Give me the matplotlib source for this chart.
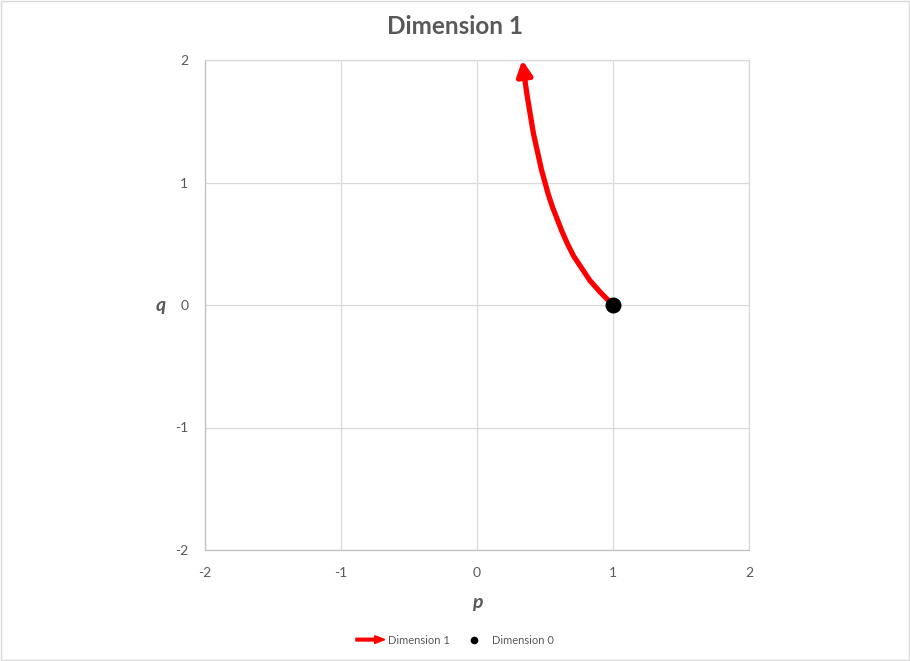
import matplotlib.pyplot as plt
from matplotlib.patches import FancyArrow
from matplotlib.lines import Line2D
from matplotlib.legend_handler import HandlerPatch

plt.rcParams['font.family'] = ['Lato', 'DejaVu Sans']
plt.rcParams['axes.unicode_minus'] = False

# path of dimension 1
q_vals = [0.0, 0.1, 0.2, 0.3, 0.4, 0.5, 0.6, 0.7, 0.8, 0.9, 1.0,
          1.1, 1.2, 1.3, 1.4, 1.5, 1.6, 1.7, 1.8, 1.9, 2.0]
p_vals = [1.0, 0.91, 0.83, 0.77, 0.71, 0.665, 0.625, 0.59, 0.555, 0.525, 0.50,
          0.475, 0.455, 0.435, 0.415, 0.40, 0.385, 0.37, 0.357, 0.345, 0.333]

# dimension 0 point
p0 = [1.0]
q0 = [0.0]

ticks = [-2, -1, 0, 1, 2]
GRID = '#d9d9d9'
TEXT = '#595959'


def make_arrow(legend, orig_handle, xdescent, ydescent, width, height, fontsize):
    return FancyArrow(-xdescent, height / 2 - ydescent, width, 0,
                      width=height * 0.35, head_width=height * 1.0,
                      head_length=width * 0.35, length_includes_head=True,
                      color='red', lw=0)


def main():
    fig = plt.figure(figsize=(9.1, 6.61), dpi=100)
    ax = fig.add_axes([205 / 910, 1 - 550 / 661, 544 / 910, 490 / 661])

    ax.plot(p_vals[:-1], q_vals[:-1], color='red', lw=3.8,
            solid_capstyle='butt', solid_joinstyle='round', zorder=3)
    ax.annotate('', xy=(p_vals[-1], q_vals[-1]), xytext=(p_vals[-2], q_vals[-2]),
                arrowprops=dict(arrowstyle='-|>,head_length=0.9,head_width=0.45',
                                color='red', lw=3.8, shrinkA=0, shrinkB=0),
                zorder=3, annotation_clip=False)
    ax.scatter(p0, q0, s=110, color='black', zorder=4, clip_on=False)

    ax.set_xlim(-2, 2)
    ax.set_ylim(-2, 2)
    ax.set_xticks(ticks)
    ax.set_yticks(ticks)
    ax.grid(True, color=GRID, lw=0.9)
    ax.set_axisbelow(True)
    for side in ['top', 'right']:
        ax.spines[side].set_color(GRID)
    for side in ['bottom', 'left']:
        ax.spines[side].set_color('#bfbfbf')
    for s in ax.spines.values():
        s.set_linewidth(0.9)
    ax.tick_params(length=0, labelsize=10, colors=TEXT)
    ax.tick_params(axis='x', pad=12)
    ax.tick_params(axis='y', pad=12)

    ax.set_xlabel('p', fontsize=14, fontweight='bold', fontstyle='italic',
                  color=TEXT, labelpad=11)
    ax.set_ylabel('q', fontsize=14, fontweight='bold', fontstyle='italic',
                  color=TEXT, rotation=0, labelpad=10, va='center')

    fig.suptitle('Dimension 1', x=0.5, y=1 - 27 / 661, va='center',
                 fontsize=17.5, fontweight='bold', color=TEXT)

    arrow_handle = FancyArrow(0, 0, 1, 0, color='red')
    dot_handle = Line2D([], [], color='black', marker='o', ls='none', markersize=4.5)
    fig.legend([arrow_handle, dot_handle], ['Dimension 1', 'Dimension 0'],
               handler_map={FancyArrow: HandlerPatch(patch_func=make_arrow)},
               loc='center', bbox_to_anchor=(0.5, 1 - 640 / 661), ncol=2,
               frameon=False, fontsize=8, labelcolor=TEXT,
               handlelength=2.6, handletextpad=0.3, columnspacing=0.9)

    # chart border
    fig.patches.append(plt.Rectangle((0.001, 0.001), 0.998, 0.998,
                                     transform=fig.transFigure, fill=False,
                                     edgecolor='#d9d9d9', lw=1))

    fig.savefig('out.png', dpi=100)


if __name__ == '__main__':
    main()
